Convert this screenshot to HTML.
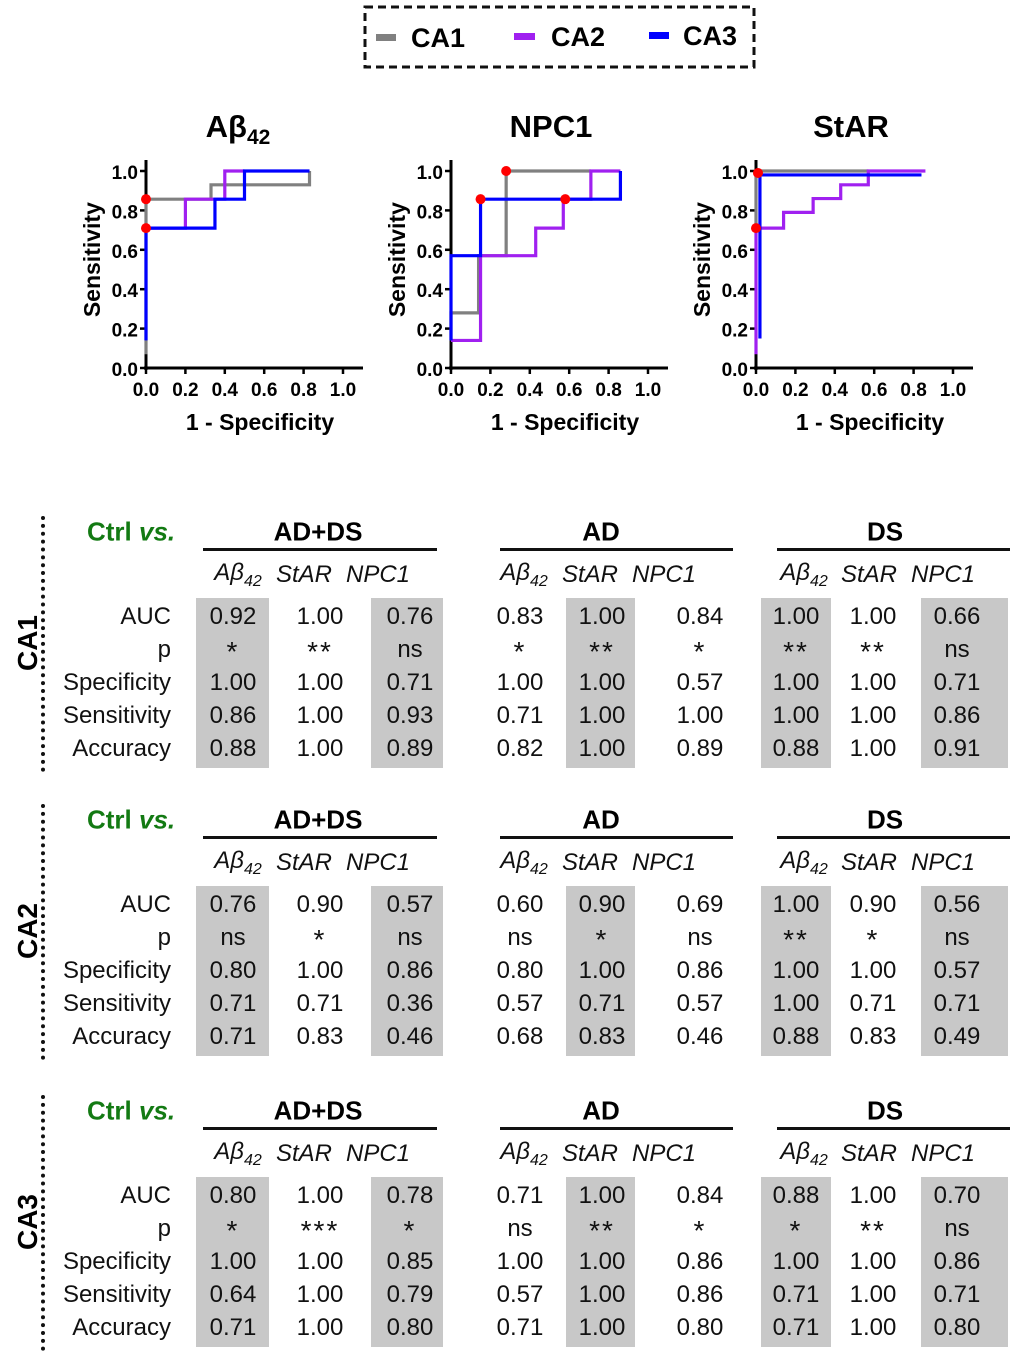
<!DOCTYPE html>
<html><head><meta charset="utf-8"><style>
html,body{margin:0;padding:0;background:#fff;}
body{width:1020px;height:1360px;position:relative;overflow:hidden;font-family:"Liberation Sans",sans-serif;}
.abs{position:absolute;white-space:nowrap;}
.val{position:absolute;font-size:24px;transform:translate(-50%,-50%);color:#111;}
.lbl{position:absolute;font-size:24px;transform:translate(-100%,-50%);color:#111;}
.hdr{position:absolute;font-size:26px;font-weight:bold;transform:translate(-50%,-50%);}
.sub{position:absolute;font-size:24px;font-style:italic;transform:translate(-50%,-50%);color:#111;}
.box{position:absolute;background:#c8c8c8;}
</style></head><body>
<svg id="svg" width="1020" height="460" style="position:absolute;left:0;top:0" xmlns="http://www.w3.org/2000/svg" font-family="Liberation Sans, sans-serif">
<g>
<rect x="365" y="7" width="389" height="60" fill="none" stroke="#111" stroke-width="3" stroke-dasharray="8,5"/>
<rect x="376" y="34" width="20" height="7" fill="#808080"/>
<text x="411" y="47" font-size="27" font-weight="bold">CA1</text>
<rect x="514" y="33" width="21" height="7" fill="#a020f0"/>
<text x="551" y="46" font-size="27" font-weight="bold">CA2</text>
<rect x="649" y="32" width="20" height="7" fill="#0000ff"/>
<text x="683" y="45" font-size="27" font-weight="bold">CA3</text>
</g>
</svg>
<div id="tables"></div>
<script>
const chartTitles=["Aβ","NPC1","StAR"];
const tickVals=[0,0.2,0.4,0.6,0.8,1.0];
const tickLabels=["0.0","0.2","0.4","0.6","0.8","1.0"];
const ab42CA1=[[0,0.07],[0,0.857],[0.33,0.857],[0.33,0.93],[0.83,0.93],[0.83,1.0]];
const ab42CA2=[[0,0.71],[0.2,0.71],[0.2,0.857],[0.4,0.857],[0.4,1.0],[0.5,1.0]];
const ab42CA3=[[0,0.14],[0,0.71],[0.35,0.71],[0.35,0.857],[0.5,0.857],[0.5,1.0],[0.83,1.0]];
const npcCA1=[[0,0.14],[0,0.28],[0.14,0.28],[0.14,0.57],[0.28,0.57],[0.28,1.0],[0.71,1.0]];
const npcCA2=[[0,0.14],[0.15,0.14],[0.15,0.57],[0.43,0.57],[0.43,0.71],[0.57,0.71],[0.57,0.857],[0.71,0.857],[0.71,1.0],[0.86,1.0]];
const npcCA3=[[0,0.14],[0,0.57],[0.15,0.57],[0.15,0.857],[0.86,0.857],[0.86,1.0]];
const starCA1=[[0,0.7],[0,1.0],[0.57,1.0]];
const starCA2=[[0,0.07],[0,0.71],[0.14,0.71],[0.14,0.79],[0.29,0.79],[0.29,0.86],[0.43,0.86],[0.43,0.93],[0.57,0.93],[0.57,1.0],[0.86,1.0]];
const starCA3=[[0.02,0.15],[0.02,0.98],[0.84,0.98]];
const cutAb42=[[0,0.857],[0,0.71]];
const cutNpc=[[0.28,1.0],[0.15,0.857],[0.58,0.857]];
const cutStar=[[0.01,0.99],[0,0.71]];
const seriesSets=[[ab42CA1,ab42CA2,ab42CA3],[npcCA1,npcCA2,npcCA3],[starCA1,starCA2,starCA3]];
const cutSets=[cutAb42,cutNpc,cutStar];
const colors=["#808080","#a020f0","#0000ff"];
const chartNames=["ab42","npc1","star"];
const origins=[146,451,756], OY=368, S=197;
const titleX=[238,551,851];
const NS="http://www.w3.org/2000/svg";
const svg=document.getElementById('svg');
function mk(tag,attrs,parent,txt){const e=document.createElementNS(NS,tag);for(const k in attrs)e.setAttribute(k,attrs[k]);if(txt!==undefined)e.textContent=txt;parent.appendChild(e);return e;}
for(let c=0;c<3;c++){
  const ox=origins[c];
  const sx=v=>ox+v*S, sy=v=>OY-v*S;
  const g=mk('g',{},svg);
  
  
  const t=mk('text',{x:titleX[c],y:137,'font-size':31,'font-weight':'bold','text-anchor':'middle'},g);
  
  
  t.textContent=chartTitles[c];
  if(c===0){mk('tspan',{'font-size':21,dy:7},t,'42');}
  mk('line',{x1:ox,y1:160,x2:ox,y2:OY+2,stroke:'#000','stroke-width':3},g);
  mk('line',{x1:ox-2,y1:OY,x2:ox+S+20,y2:OY,stroke:'#000','stroke-width':3},g);
  tickVals.forEach((v,i)=>{
    mk('line',{x1:ox-6,y1:sy(v),x2:ox,y2:sy(v),stroke:'#000','stroke-width':2.5},g);
    mk('line',{x1:sx(v),y1:OY,x2:sx(v),y2:OY+6,stroke:'#000','stroke-width':2.5},g);
    const yl=mk('text',{x:ox-8,y:sy(v)+8,'font-size':19,'font-weight':'bold','text-anchor':'end'},g,tickLabels[i]);
    
    
    const xl=mk('text',{x:sx(v),y:OY+28,'font-size':19,'font-weight':'bold','text-anchor':'middle'},g,tickLabels[i]);
    
    
  });
  const yt=mk('text',{x:0,y:0,'font-size':23,'font-weight':'bold','text-anchor':'middle',transform:`translate(${ox-46},${sy(0.55)}) rotate(-90)`},g,'Sensitivity');
  
  
  const xt=mk('text',{x:ox+114,y:430,'font-size':23,'font-weight':'bold','text-anchor':'middle'},g,'1 - Specificity');
  
  
  seriesSets[c].forEach((pts,k)=>{
    const p=mk('polyline',{points:pts.map(q=>sx(q[0])+','+sy(q[1])).join(' '),fill:'none',stroke:colors[k],'stroke-width':3.2},g);
    
    
  });
  cutSets[c].forEach(q=>{
    const d=mk('circle',{cx:sx(q[0]),cy:sy(q[1]),r:5,fill:'#ff0000'},g);
    
    
  });
}
const regions=["CA1","CA2","CA3"];
const groups=["AD+DS","AD","DS"];
const rowLabels=["AUC","p","Specificity","Sensitivity","Accuracy"];
const ca1Vals=[[["0.92","*","1.00","0.86","0.88"],["1.00","**","1.00","1.00","1.00"],["0.76","ns","0.71","0.93","0.89"]],
 [["0.83","*","1.00","0.71","0.82"],["1.00","**","1.00","1.00","1.00"],["0.84","*","0.57","1.00","0.89"]],
 [["1.00","**","1.00","1.00","0.88"],["1.00","**","1.00","1.00","1.00"],["0.66","ns","0.71","0.86","0.91"]]];
const ca2Vals=[[["0.76","ns","0.80","0.71","0.71"],["0.90","*","1.00","0.71","0.83"],["0.57","ns","0.86","0.36","0.46"]],
 [["0.60","ns","0.80","0.57","0.68"],["0.90","*","1.00","0.71","0.83"],["0.69","ns","0.86","0.57","0.46"]],
 [["1.00","**","1.00","1.00","0.88"],["0.90","*","1.00","0.71","0.83"],["0.56","ns","0.57","0.71","0.49"]]];
const ca3Vals=[[["0.80","*","1.00","0.64","0.71"],["1.00","***","1.00","1.00","1.00"],["0.78","*","0.85","0.79","0.80"]],
 [["0.71","ns","1.00","0.57","0.71"],["1.00","**","1.00","1.00","1.00"],["0.84","*","0.86","0.86","0.80"]],
 [["0.88","*","1.00","0.71","0.71"],["1.00","**","1.00","1.00","1.00"],["0.70","ns","0.86","0.71","0.80"]]];
const allVals=[ca1Vals,ca2Vals,ca3Vals];
const blockOff=[0,288,579];
const colX=[[233,320,410],[520,602,700],[796,873,957]];
const subX=[[238,304,378],[524,590,664],[804,869,943]];
const hdrX=[318,601,885];
const boxes=[[[196,269],null,[371,443]],[null,[566,635],null],[[761,831],null,[921,1008]]];
const ulines=[[203,437],[500,733],[777,1010]];
const rowY=[617,650,683,716,749];
const T=document.getElementById('tables');
function div(cls,style,txt,name){const d=document.createElement('div');d.className=cls;d.setAttribute('style',style);if(txt!==undefined)d.innerHTML=txt;


T.appendChild(d);return d;}
regions.forEach((r,b)=>{
  const o=blockOff[b];
  div('abs',`left:41px;top:${516+o}px;width:0;height:256px;border-left:4px dotted #111;`,undefined,'region-divider');
  div('abs',`left:28px;top:${643+o}px;font-size:28px;font-weight:bold;transform:translate(-50%,-50%) rotate(-90deg);`,r,'region-label');
  div('abs',`left:87px;top:${532+o}px;font-size:26px;font-weight:bold;color:#137a13;transform:translateY(-50%);`,'Ctrl <i>vs.</i>','ctrl-vs-label');
  groups.forEach((gname,gi)=>{
    const [a,z]=ulines[gi];
    div('hdr',`left:${hdrX[gi]}px;top:${532+o}px;`,gname,'group-header');
    div('abs',`left:${a}px;top:${548+o}px;width:${z-a}px;height:3px;background:#111;`,undefined,'group-underline');
    ['Aβ<sub style="font-size:16px;vertical-align:-6px">42</sub>','StAR','NPC1'].forEach((s,si)=>div('sub',`left:${subX[gi][si]}px;top:${575+o}px;`,s,'marker-subheader'));
    for(let ci=0;ci<3;ci++){
      const bx=boxes[gi][ci];
      if(bx) div('box',`left:${bx[0]}px;top:${598+o}px;width:${bx[1]-bx[0]}px;height:${170}px;`,undefined,'highlight-column');
    }
    for(let ci=0;ci<3;ci++){
      allVals[b][gi][ci].forEach((v,ri)=>{
        const star=v.indexOf('*')>=0;
        div('val',`left:${colX[gi][ci]}px;top:${rowY[ri]+o+(star?2:0)}px;${star?'font-size:28px;letter-spacing:2px;':''}`,v,'table-value');
      });
    }
  });
  rowLabels.forEach((l,ri)=>div('lbl',`left:171px;top:${rowY[ri]+o}px;`,l,'row-label'));
});
</script>
</body></html>
